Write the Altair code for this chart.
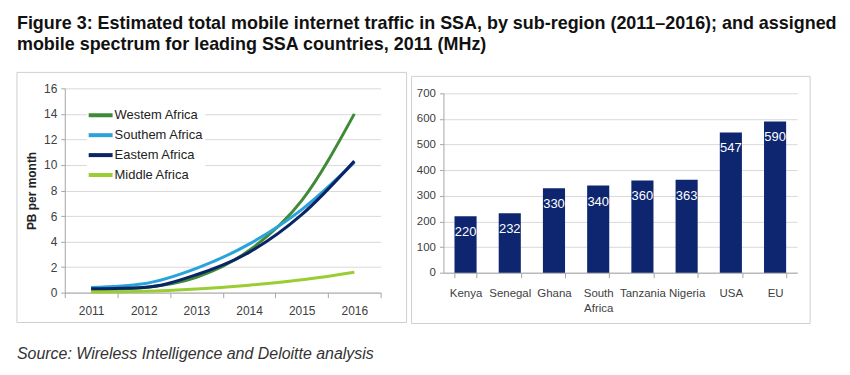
import altair as alt
import pandas as pd

# ---------------- data ----------------
years = ["2011", "2012", "2013", "2014", "2015", "2016"]
legend_labels = ["Westem Africa", "Southem Africa", "Eastem Africa", "Middle Africa"]
western = [0.2, 0.4, 1.2, 3.3, 7.2, 14.0]
southern = [0.4, 0.7, 1.9, 3.8, 6.5, 10.2]
eastern = [0.3, 0.4, 1.4, 3.15, 6.1, 10.3]
middle = [0.05, 0.1, 0.28, 0.58, 1.0, 1.6]
region_colors = ["#3f8a36", "#2aa2da", "#0b2466", "#9acd32"]

countries = ["Kenya", "Senegal", "Ghana", "South Africa", "Tanzania", "Nigeria", "USA", "EU"]
spectrum = [220, 232, 330, 340, 360, 363, 547, 590]

title_line1 = "Figure 3: Estimated total mobile internet traffic in SSA, by sub-region (2011\u20132016); and assigned"
title_line2 = "mobile spectrum for leading SSA countries, 2011 (MHz)"
source_text = "Source: Wireless Intelligence and Deloitte analysis"

# ---------------- tables ----------------
rows = []
for i, (lab, series) in enumerate(zip(legend_labels, [western, southern, eastern, middle])):
    for y, v in zip(years, series):
        rows.append({"year": y, "region": lab, "value": v, "k": i})
traffic = pd.DataFrame(rows)
bars = pd.DataFrame({"country": countries, "mhz": spectrum})
one = pd.DataFrame({"k": [0]})

W1, H = 317, 205
W2 = 355
FONT = "Liberation Sans"
GRID = "#d9d9d9"
DOMAIN = "#a6a6a6"
LABEL = "#404040"

# ---------------- left: line chart ----------------
lines = alt.Chart(traffic).mark_line(strokeWidth=3, interpolate="monotone").encode(
    x=alt.X("year:O", bandPosition=0.5,
            scale=alt.Scale(type="band", domain=years, paddingInner=0, paddingOuter=0),
            axis=alt.Axis(title=None, labelAngle=0, tickBand="extent", grid=False,
                          domainColor=DOMAIN, tickColor=DOMAIN, tickSize=5,
                          labelFont=FONT, labelFontSize=12, labelColor=LABEL, labelPadding=8,
                          labelExpr="datum.value ? datum.value : ''")),
    y=alt.Y("value:Q", scale=alt.Scale(domain=[0, 16], nice=False),
            axis=alt.Axis(title="PB per month", values=list(range(0, 17, 2)),
                          grid=True, gridColor=GRID, domainColor=DOMAIN, tickColor=DOMAIN,
                          tickSize=4, labelFont=FONT, labelFontSize=12, labelColor=LABEL,
                          labelPadding=4, titleFont=FONT, titleFontSize=12,
                          titleFontWeight="bold", titleColor="#222", titlePadding=5)),
    color=alt.Color("region:N",
                    scale=alt.Scale(domain=legend_labels, range=region_colors),
                    legend=alt.Legend(title=None, orient="none", legendX=22, legendY=13,
                                      symbolType="M-1.2,0H1.2", symbolSize=400,
                                      symbolStrokeWidth=4, labelFont=FONT,
                                      labelFontSize=13, labelColor="#222", labelOffset=2,
                                      rowPadding=0, padding=2, fillColor="white")),
    order=alt.Order("k:Q"),
)

box1 = alt.Chart(one).mark_rect(fillOpacity=0, stroke="#cfcfcf", strokeWidth=1).encode(
    x=alt.value(-48), x2=alt.value(343), y=alt.value(-16), y2=alt.value(235))

t1 = alt.Chart(one).mark_text(align="left", baseline="alphabetic", font=FONT, fontSize=18,
                              fontWeight="bold", color="#111").encode(
    x=alt.value(-48), y=alt.value(-60), text=alt.value(title_line1))
t2 = alt.Chart(one).mark_text(align="left", baseline="alphabetic", font=FONT, fontSize=18,
                              fontWeight="bold", color="#111").encode(
    x=alt.value(-48), y=alt.value(-38), text=alt.value(title_line2))
src = alt.Chart(one).mark_text(align="left", baseline="alphabetic", font=FONT, fontSize=16,
                               fontStyle="italic", color="#333").encode(
    x=alt.value(-48), y=alt.value(272), text=alt.value(source_text))

left = alt.layer(box1, lines, t1, t2, src).properties(width=W1, height=H)

# ---------------- right: bar chart ----------------
xb = alt.X("country:N", sort=countries,
           scale=alt.Scale(paddingInner=0.5, paddingOuter=0.25),
           axis=alt.Axis(title=None, labelAngle=0, tickBand="extent", grid=False, offset=-20,
                         domainColor=DOMAIN, tickColor=DOMAIN, tickSize=5,
                         labelFont=FONT, labelFontSize=11.5, labelColor=LABEL,
                         labelPadding=10, labelLineHeight=15,
                         labelExpr="datum.value ? split(datum.value, ' ') : ''"))
yb = alt.Y("mhz:Q", scale=alt.Scale(domain=[0, 700], nice=False, range=[185, 5]),
           axis=alt.Axis(title=None, values=list(range(0, 701, 100)), grid=True,
                         gridColor=GRID, domainColor=DOMAIN, tickColor=DOMAIN, tickSize=4,
                         labelFont=FONT, labelFontSize=11.5, labelColor=LABEL, labelPadding=4))

barmark = alt.Chart(bars).mark_bar(color="#0e2670").encode(x=xb, y=yb)
barlab = alt.Chart(bars).mark_text(color="white", font=FONT, fontSize=13,
                                   baseline="middle", dy=16).encode(
    x=xb, y=yb, text=alt.Text("mhz:Q"))

box2 = alt.Chart(one).mark_rect(fillOpacity=0, stroke="#cfcfcf", strokeWidth=1).encode(
    x=alt.value(-32), x2=alt.value(368), y=alt.value(-12), y2=alt.value(236))

right = alt.layer(box2, barmark, barlab).properties(width=W2, height=H)

chart = alt.hconcat(left, right, spacing=63, bounds="flush").resolve_scale(
    x="independent", y="independent", color="independent"
).properties(
    padding={"left": 16, "top": 14, "right": 12, "bottom": 8},
    background="white",
).configure_view(stroke=None)

chart.save("out.html", embed_options={"renderer": "svg", "actions": False})
